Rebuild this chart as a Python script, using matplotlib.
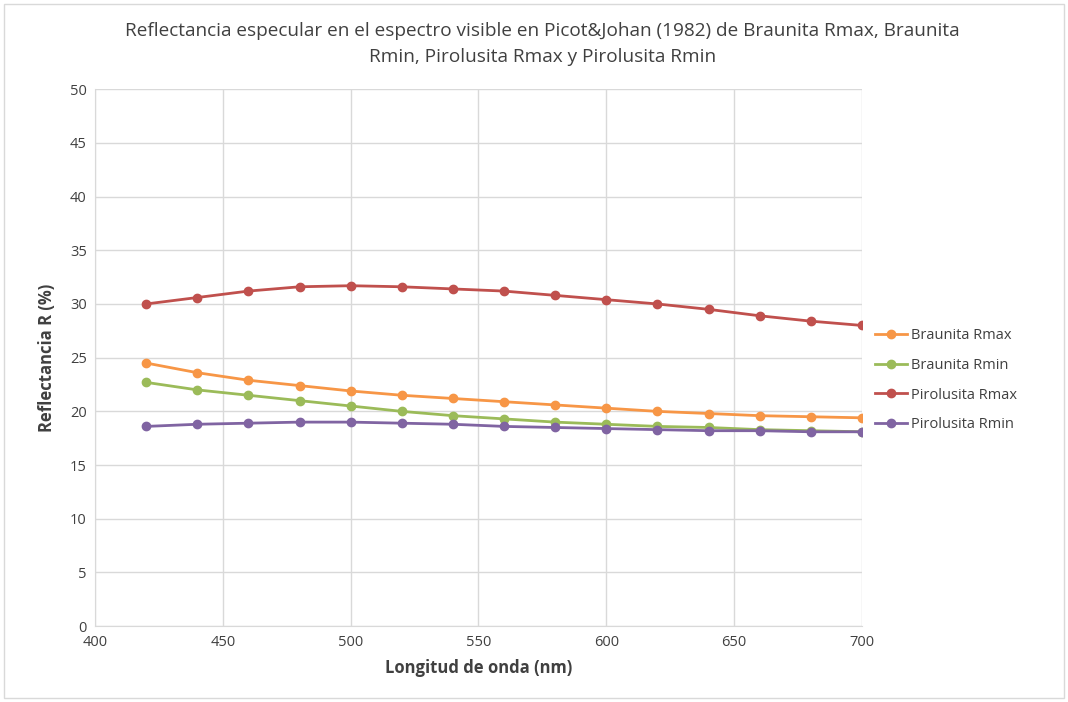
import matplotlib.pyplot as plt
from matplotlib.patches import Rectangle

plt.rcParams["font.family"] = ["Open Sans", "DejaVu Sans"]

wavelengths = [420, 440, 460, 480, 500, 520, 540, 560, 580, 600, 620, 640, 660, 680, 700]
braunita_rmax = [24.5, 23.6, 22.9, 22.4, 21.9, 21.5, 21.2, 20.9, 20.6, 20.3, 20.0, 19.8, 19.6, 19.5, 19.4]
braunita_rmin = [22.7, 22.0, 21.5, 21.0, 20.5, 20.0, 19.6, 19.3, 19.0, 18.8, 18.6, 18.5, 18.3, 18.2, 18.1]
pirolusita_rmax = [30.0, 30.6, 31.2, 31.6, 31.7, 31.6, 31.4, 31.2, 30.8, 30.4, 30.0, 29.5, 28.9, 28.4, 28.0]
pirolusita_rmin = [18.6, 18.8, 18.9, 19.0, 19.0, 18.9, 18.8, 18.6, 18.5, 18.4, 18.3, 18.2, 18.2, 18.1, 18.1]

series = [
    ("Braunita Rmax", braunita_rmax, "#F79646"),
    ("Braunita Rmin", braunita_rmin, "#9BBB59"),
    ("Pirolusita Rmax", pirolusita_rmax, "#C0504D"),
    ("Pirolusita Rmin", pirolusita_rmin, "#8064A2"),
]

fig = plt.figure(figsize=(10.68, 7.02), dpi=100)
ax = fig.add_axes([0.089, 0.108, 0.718, 0.765])

for name, vals, color in series:
    ax.plot(wavelengths, vals, color=color, lw=2, marker="o", ms=6, label=name)

ax.set_xlim(400, 700)
ax.set_ylim(0, 50)
ax.set_xticks(range(400, 701, 50))
ax.set_yticks(range(0, 51, 5))
ax.grid(color="#D9D9D9", lw=1)
ax.set_axisbelow(True)
for side in ["top", "right"]:
    ax.spines[side].set_visible(False)
for side in ["left", "bottom"]:
    ax.spines[side].set_color("#D9D9D9")
ax.tick_params(length=0, labelsize=10.5, labelcolor="#404040", pad=6)

ax.set_xlabel("Longitud de onda (nm)", fontsize=12, fontweight="bold", color="#404040", labelpad=7)
ax.set_ylabel("Reflectancia R (%)", fontsize=12, fontweight="bold", color="#404040", labelpad=10)
fig.suptitle("Reflectancia especular en el espectro visible en Picot&Johan (1982) de Braunita Rmax, Braunita\n"
             "Rmin, Pirolusita Rmax y Pirolusita Rmin",
             x=0.508, y=0.968, fontsize=13.7, color="#404040", linespacing=1.55)

ax.legend(loc="center left", bbox_to_anchor=(1.0, 0.458), frameon=False,
          fontsize=10.5, labelcolor="#404040", handlelength=2.2, labelspacing=1.0,
          handletextpad=0.3)

fig.add_artist(Rectangle((0.004, 0.005), 0.992, 0.99, transform=fig.transFigure,
                         fill=False, edgecolor="#D9D9D9", lw=1))

fig.savefig("out.png", dpi=100)
